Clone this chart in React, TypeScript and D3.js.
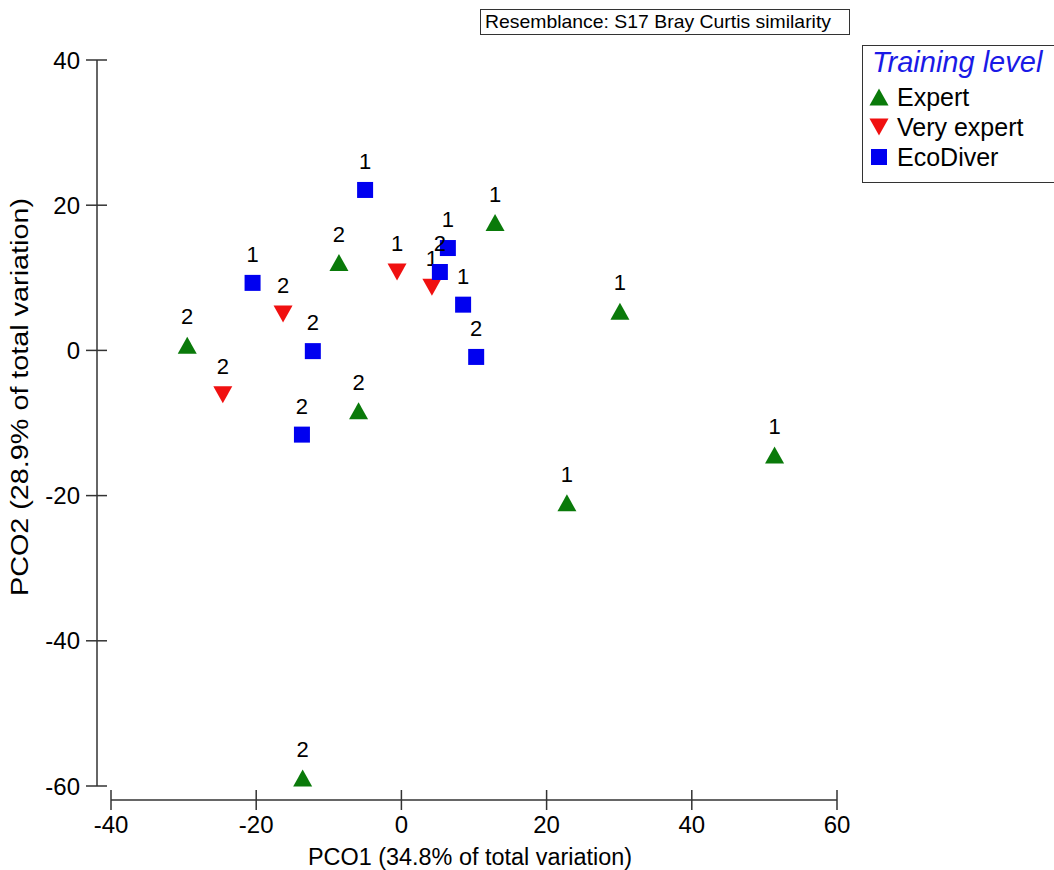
import React from "react";
import * as d3 from "d3";

// PCO ordination scores per sample group, with the replicate label drawn above each point
const expertX = [-29.5, -8.6, 12.9, 30.1, -5.9, 51.4, 22.8, -13.6];
const expertY = [0.7, 12.1, 17.6, 5.4, -8.3, -14.4, -21.0, -58.9];
const expertLabels = ["2", "2", "1", "1", "2", "1", "1", "2"];

const veryExpertX = [-16.3, -24.6, -0.6, 4.2];
const veryExpertY = [5.0, -6.1, 10.8, 8.7];
const veryExpertLabels = ["2", "2", "1", "1"];

const ecoDiverX = [-5.0, -20.5, -12.2, -13.7, 6.4, 5.3, 8.5, 10.3];
const ecoDiverY = [22.1, 9.3, -0.1, -11.6, 14.1, 10.8, 6.3, -0.9];
const ecoDiverLabels = ["1", "1", "2", "2", "1", "2", "1", "2"];

const xTicks = [-40, -20, 0, 20, 40, 60];
const yTicks = [40, 20, 0, -20, -40, -60];

const groups = [
  { name: "Expert", shape: "up", color: "#0a7a0a", xs: expertX, ys: expertY, labels: expertLabels },
  { name: "Very expert", shape: "down", color: "#f01010", xs: veryExpertX, ys: veryExpertY, labels: veryExpertLabels },
  { name: "EcoDiver", shape: "square", color: "#0000f0", xs: ecoDiverX, ys: ecoDiverY, labels: ecoDiverLabels },
];

const W = 1054;
const H = 870;
const FONT = "Arial, 'Liberation Sans', Helvetica, sans-serif";

const x = d3.scaleLinear().domain([-40, 60]).range([111, 837]);
const y = d3.scaleLinear().domain([-60, 40]).range([786, 60]);

function Marker({ shape, color, cx, cy }: { shape: string; color: string; cx: number; cy: number }) {
  if (shape === "square") {
    return <rect x={cx - 8} y={cy - 8} width={16} height={16} fill={color} />;
  }
  const hw = 9.5;
  const hh = 8.5;
  const pts =
    shape === "up"
      ? [[cx - hw, cy + hh], [cx + hw, cy + hh], [cx, cy - hh]]
      : [[cx - hw, cy - hh], [cx + hw, cy - hh], [cx, cy + hh]];
  return <path d={d3.line()(pts as [number, number][]) + "Z"} fill={color} />;
}

export default function App() {
  const axisColor = "#333";
  return (
    <svg
      width={W}
      height={H}
      style={{ position: "absolute", left: 0, top: 0, background: "#fff" }}
      fontFamily={FONT}
    >
      <rect x={0} y={0} width={W} height={H} fill="#fff" />

      {/* Resemblance note */}
      <rect x={480.5} y={9.5} width={369} height={25} fill="#fff" stroke="#333" strokeWidth={1} />
      <text x={485} y={28} fontSize={19} textLength={346} lengthAdjust="spacingAndGlyphs" fill="#000">
        Resemblance: S17 Bray Curtis similarity
      </text>

      {/* Y axis */}
      <line x1={97} x2={97} y1={y(40)} y2={y(-60)} stroke={axisColor} strokeWidth={1.5} />
      {yTicks.map((t) => (
        <g key={"y" + t}>
          <line x1={86} x2={107} y1={y(t)} y2={y(t)} stroke={axisColor} strokeWidth={1.5} />
          <text x={80} y={y(t)} dy="0.36em" textAnchor="end" fontSize={24} fill="#000">
            {t}
          </text>
        </g>
      ))}

      {/* X axis */}
      <line x1={x(-40)} x2={x(60)} y1={800} y2={800} stroke={axisColor} strokeWidth={1.5} />
      {xTicks.map((t) => (
        <g key={"x" + t}>
          <line x1={x(t)} x2={x(t)} y1={790} y2={810} stroke={axisColor} strokeWidth={1.5} />
          <text x={x(t)} y={833} textAnchor="middle" fontSize={24} fill="#000">
            {t}
          </text>
        </g>
      ))}

      <text x={470} y={865} textAnchor="middle" fontSize={23} textLength={324} lengthAdjust="spacingAndGlyphs" fill="#000">
        PCO1 (34.8% of total variation)
      </text>
      <text
        transform={`translate(28,397) rotate(-90)`}
        textAnchor="middle"
        fontSize={23}
        textLength={398}
        lengthAdjust="spacingAndGlyphs"
        fill="#000"
      >
        PCO2 (28.9% of total variation)
      </text>

      {/* Points and replicate labels */}
      {groups.map((g) =>
        g.xs.map((v, i) => {
          const cx = x(v);
          const cy = y(g.ys[i]);
          return (
            <g key={g.name + i}>
              <text x={cx} y={cy - 21} textAnchor="middle" fontSize={22} fill="#000">
                {g.labels[i]}
              </text>
              <Marker shape={g.shape} color={g.color} cx={cx} cy={cy} />
            </g>
          );
        })
      )}

      {/* Legend */}
      <rect x={862.5} y={45.5} width={200} height={137} fill="#fff" stroke="#333" strokeWidth={1} />
      <text x={872} y={72} fontSize={29} fontStyle="italic" fill="#1a1ae6">
        Training level
      </text>
      {groups.map((g, i) => {
        const cy = 97 + i * 30;
        return (
          <g key={"leg" + g.name}>
            <Marker shape={g.shape} color={g.color} cx={879} cy={cy} />
            <text x={897} y={cy} dy="0.36em" fontSize={25} fill="#000">
              {g.name}
            </text>
          </g>
        );
      })}
    </svg>
  );
}
